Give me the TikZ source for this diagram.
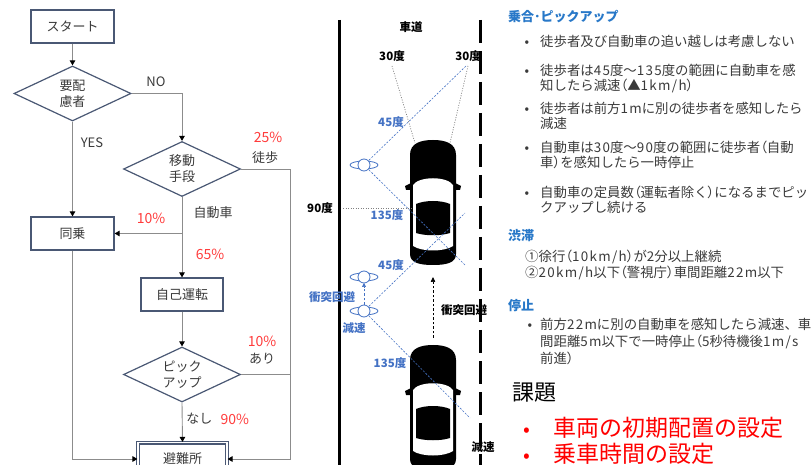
\documentclass[tikz,border=0pt]{standalone}
\usepackage{fontspec}
\setmainfont{Noto Sans CJK JP}
\newfontfamily\latinwide{Noto Sans CJK JP}[LetterSpace=10]
\newfontfamily\paltfont{Noto Sans CJK JP}[RawFeature=+palt]
\usetikzlibrary{shapes.geometric,arrows.meta}

\definecolor{frame}{HTML}{4A5874}
\definecolor{wire}{HTML}{8C8C8C}
\definecolor{ink}{HTML}{3A3A3A}
\definecolor{pct}{HTML}{FF3B3B}
\definecolor{alert}{HTML}{FF0000}
\definecolor{headblue}{HTML}{2878C8}
\definecolor{viewblue}{HTML}{4472C4}

\newcommand\tsz[2]{\fontsize{#1pt}{#2pt}\selectfont}
\newcommand\wl[1]{{\latinwide #1}}
\newcommand\lp{{\paltfont （}}
\newcommand\rp{{\paltfont ）}}

\tikzset{
  box/.style={draw=frame, line width=1.2pt, fill=white, text=ink,
    font=\tsz{13}{15}, inner sep=0pt, minimum width=83pt, minimum height=33pt},
  decision/.style={diamond, aspect=2, draw=frame, line width=1.2pt, fill=white,
    text=ink, font=\tsz{13}{16}, align=center, inner sep=0pt,
    minimum width=117pt, minimum height=55pt},
  flow/.style={draw=wire, line width=0.9pt},
  flowarrow/.style={flow, -{Triangle[length=5pt,width=5.5pt,color=black]}},
  pctlabel/.style={text=pct, font=\tsz{14}{16}},
  flowlabel/.style={text=ink, font=\tsz{13}{15}},
  roadlabel/.style={text=black, font=\tsz{11.5}{13}\bfseries},
  anglelabel/.style={text=viewblue, font=\tsz{11.5}{13}\bfseries},
  viewline/.style={draw=viewblue, line width=0.6pt, dash pattern=on 2pt off 1.5pt},
  sightline/.style={draw=gray, line width=0.7pt, dash pattern=on 1pt off 1.5pt},
  bodytext/.style={anchor=base west, inner sep=0pt, text=ink, font=\tsz{13.4}{15}},
  headtext/.style={anchor=base west, inner sep=0pt, text=headblue, font=\tsz{13}{15}\bfseries},
  bulletdot/.style={anchor=base, inner sep=0pt, text=ink, font=\tsz{13.4}{15}},
  % top view of a car, nose up, 46 x 125
  car/.pic={
    \fill[black] (-23,15) .. controls (-23,3) and (-12,0) .. (0,0)
      .. controls (12,0) and (23,3) .. (23,15) -- (23,114)
      .. controls (23,123) and (13,125) .. (0,125)
      .. controls (-13,125) and (-23,123) .. (-23,114) -- cycle;
    \fill[black] (-22,43) -- (-28,46) -- (-27,50) -- (-22,50) -- cycle;
    \fill[black] (22,43) -- (28,46) -- (27,50) -- (22,50) -- cycle;
    \fill[white] (-20,45) .. controls (-14,36) and (14,36) .. (20,45)
      -- (20,106) .. controls (11,112) and (-11,112) .. (-20,106) -- cycle;
    \fill[black] (-17,64) .. controls (-8,60) and (8,60) .. (17,64)
      -- (17,93) .. controls (8,96) and (-8,96) .. (-17,93) -- cycle;
  },
  % top view of a walker
  walker/.pic={
    \draw[viewblue, line width=0.8pt, fill=white] (0,0) ellipse (14pt and 4pt);
    \draw[viewblue, line width=0.8pt, fill=white] (0,0) circle (6pt);
  }
}

\begin{document}
\begin{tikzpicture}[x=1pt, y=-1pt]
\useasboundingbox (0,0) rectangle (812,465);
\clip (0,0) rectangle (812,465);

%% ---------------- flow chart ----------------
\node[box] (start) at (72.5,26.5) {スタート};
\node[decision] (q1) at (72.5,93.5) {要配\\慮者};
\node[decision] (q2) at (182,169) {移動\\手段};
\node[box] (ride) at (72.5,233.5) {同乗};
\node[box, minimum width=82pt] (self) at (182,294.5) {自己運転};
\node[decision] (pick) at (182,374.5) {ピック\\アップ};
\node[box, double=white, double distance=1.8pt, line width=1.1pt,
      minimum width=89pt, minimum height=33pt] (shelter) at (182.5,459) {避難所};

\coordinate (br) at (q2.south |- ride.east);
\coordinate (rr) at (290,459);

\draw[flowarrow] (start) -- (q1);
\draw[flowarrow] (q1.east) -| (q2.north);
\draw[flowarrow] (q1.south) -- (ride.north);
\draw[flowarrow] (q2.south) -- (self.north);
\draw[flowarrow] (br) -- (ride.east);
\draw[flowarrow] (q2.east) -| (rr) -- (shelter.east);
\draw[flowarrow] (self.south) -- (pick.north);
\draw[flow] (pick.east) -- (pick.east -| rr);
\draw[flowarrow] (pick.south) -- (shelter.north);
\draw[flowarrow] (ride.south) |- (shelter.west);

\node[flowlabel] (lno) at (156,82) {NO};
\node[flowlabel] (lyes) at (92,143) {YES};
\node[pctlabel] (p25) at (268,137) {25\%};
\node[flowlabel] (lwalk) at (265,158) {徒歩};
\node[flowlabel] (lcar) at (213,213) {自動車};
\node[pctlabel] (p10a) at (151,218) {10\%};
\node[pctlabel] (p65) at (210,254) {65\%};
\node[pctlabel] (p10b) at (262,341) {10\%};
\node[flowlabel] (lyes2) at (262,359) {あり};
\node[flowlabel, anchor=east] (lno2) at (216,419) {なし};
\node[pctlabel, anchor=west] (p90) at (217,419) {90\%};

%% ---------------- road view ----------------
\draw[line width=3pt] (339,20) -- (339,470);
\draw[line width=3pt, dash pattern=on 23pt off 8pt] (480,20) -- (480,470);

\pic at (433,140) {car};
\pic at (433,345) {car};

% sight lines of the cars
\coordinate (s30l) at (392,66);
\coordinate (s30r) at (468,66);
\coordinate (carL) at (415,143);
\coordinate (carR) at (450,143);
\coordinate (s90) at (343,208);
\coordinate (car90) at (411,208);
\draw[sightline] (s30l) -- (carL);
\draw[sightline] (s30r) -- (carR);
\draw[sightline] (s90) -- (car90);

% view lines of the walkers
\coordinate (w1) at (364,165);
\coordinate (w2) at (364,277);
\coordinate (w3) at (364,311);
\coordinate (v1) at (467,65);
\coordinate (v2) at (465,265);
\coordinate (v3) at (465,213);
\coordinate (v4) at (470,418);
\draw[viewline] (w1) -- (v1);
\draw[viewline] (w1) -- (v2);
\draw[viewline] (w3) -- (v3);
\draw[viewline] (w3) -- (v4);

\coordinate (w3top) at (364,305);
\coordinate (w2low) at (364,283);
\draw[viewline, dash pattern=on 2.5pt off 2pt,
      -{Triangle[length=4pt,width=4pt,color=viewblue]}] (w3top) -- (w2low);

\coordinate (cartail) at (433,338);
\coordinate (carhead) at (433,277);
\draw[black, line width=0.7pt, dash pattern=on 2.5pt off 2pt,
      -{Triangle[length=5pt,width=4.5pt]}] (cartail) -- (carhead);

\pic at (w1) {walker};
\pic at (w2) {walker};
\pic at (w3) {walker};

\node[roadlabel] (road) at (411,27) {車道};
\node[roadlabel] (a30l) at (392,56) {30度};
\node[roadlabel] (a30r) at (468,56) {30度};
\node[anglelabel] (a45a) at (391,122) {45度};
\node[roadlabel] (a90) at (320,208) {90度};
\node[anglelabel] (a135a) at (387,215) {135度};
\node[anglelabel] (a45b) at (391,265) {45度};
\node[anglelabel] (avoidw) at (332,297) {衝突回避};
\node[anglelabel] (slowb) at (354,328) {減速};
\node[anglelabel] (a135b) at (390,363) {135度};
\node[roadlabel] (avoidc) at (464,310) {衝突回避};
\node[roadlabel] (slowc) at (483,447) {減速};

%% ---------------- notes ----------------
\node[headtext] (h1) at (508,22) {乗合･ピックアップ};
\node[bulletdot] (b1) at (527,47) {•};
\node[bodytext] (t1) at (540,47) {徒歩者及び自動車の追い越しは考慮しない};
\node[bulletdot] (b2) at (527,76) {•};
\node[bodytext] (t2a) at (540,76) {徒歩者は\wl{45}度～\wl{135}度の範囲に自動車を感};
\node[bodytext] (t2b) at (540,91) {知したら減速\lp▲\wl{1km/h}\rp};
\node[bulletdot] (b3) at (527,114) {•};
\node[bodytext] (t3a) at (540,114) {徒歩者は前方\wl{1m}に別の徒歩者を感知したら};
\node[bodytext] (t3b) at (540,129) {減速};
\node[bulletdot] (b4) at (527,153) {•};
\node[bodytext] (t4a) at (540,153) {自動車は\wl{30}度～\wl{90}度の範囲に徒歩者\lp 自動};
\node[bodytext] (t4b) at (540,168) {車\rp を感知したら一時停止};
\node[bulletdot] (b5) at (527,198) {•};
\node[bodytext] (t5a) at (540,198) {自動車の定員数\lp 運転者除く\rp になるまでピッ};
\node[bodytext] (t5b) at (540,213) {クアップし続ける};

\node[headtext] (h2) at (508,241) {渋滞};
\node[bodytext] (j1) at (525,262) {①徐行\lp\wl{10km/h}\rp が\wl{2}分以上継続};
\node[bodytext] (j2) at (525,278) {②\wl{20km/h}以下\lp 警視庁\rp 車間距離\wl{22m}以下};

\node[headtext] (h3) at (508,311) {停止};
\node[bulletdot] (b6) at (530,330) {•};
\node[bodytext] (s1) at (540,330) {前方\wl{22m}に別の自動車を感知したら減速、車};
\node[bodytext] (s2) at (540,347) {間距離\wl{5m}以下で一時停止\lp\wl{5}秒待機後\wl{1m/s}};
\node[bodytext] (s3) at (540,363) {前進\rp};

\node[anchor=base west, inner sep=0pt, text=black, font=\tsz{22}{26}] (issue) at (512,400) {課題};
\node[anchor=base, inner sep=0pt, text=alert, font=\tsz{20}{24}] (r1d) at (527,436) {•};
\node[anchor=base west, inner sep=0pt, text=alert, font=\tsz{23}{26}] (r1) at (553,436) {車両の初期配置の設定};
\node[anchor=base, inner sep=0pt, text=alert, font=\tsz{20}{24}] (r2d) at (527,462) {•};
\node[anchor=base west, inner sep=0pt, text=alert, font=\tsz{23}{26}] (r2) at (553,462) {乗車時間の設定};
\end{tikzpicture}
\end{document}
